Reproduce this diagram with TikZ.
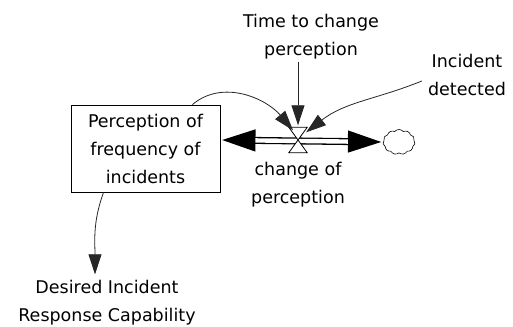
\documentclass[tikz,border=0pt]{standalone}
\usepackage{fontspec}
\setmainfont{DejaVu Sans}
\usetikzlibrary{shapes,shapes.symbols,arrows.meta}
\usetikzlibrary{positioning}
\tikzstyle{label} = [align=center, inner sep=0pt,
    font=\fontsize{17.5}{28}\selectfont]
\tikzstyle{stock} = [rectangle, draw, line width=0.9pt, align=center,
    minimum width=149pt, minimum height=87pt,
    font=\fontsize{17.5}{28}\selectfont]
\tikzstyle{valvebox} = [rectangle, minimum width=18pt, minimum height=25pt,
    inner sep=0pt]
\tikzstyle{sink} = [cloud, draw, cloud puffs=11, cloud puff arc=100,
    minimum width=32pt, minimum height=25pt, inner sep=0pt, line width=0.6pt]
\tikzstyle{link} = [draw, black!85, line width=0.8pt,
    -{Triangle[length=20pt,width=13pt]}]
\tikzstyle{pipe} = [draw, line width=7pt,
    {Triangle[length=35pt,width=20pt]}-{Triangle[length=35pt,width=20pt]}]

\begin{document}
\begin{tikzpicture}[x=1pt, y=1pt]
\useasboundingbox (0,0) rectangle (513,326);
% Place nodes
\node [stock] (perception) at (145.5,177.5) {Perception of\\frequency of\\incidents};
\node [valvebox] (valve) at (298,186) {};
\node [sink] (cloud) at (399,184) {};
\node [label] (change) at (298,141) {change of\\perception};
\node [label] (time) at (311,289) {Time to change\\perception};
\node [label] (detected) at (467,251) {Incident\\detected};
\node [label] (desired) at (107,23) {Desired Incident\\Response Capability};

% Draw the flow pipe
\path [pipe] (perception.east |- valve) -- (cloud.west);
\draw [white, line width=4.4pt, shorten <=35pt, shorten >=35pt]
    (perception.east |- valve) -- (cloud.west);
\draw [fill=white, line width=0.8pt, line join=miter]
    (valve.north west) -- (valve.north east) -- (valve.south west)
    -- (valve.south east) -- cycle;

% Draw edges
\path [link] (valve.north |- time.south) ++(0,-2) -- ([yshift=2pt]valve.north);
\path [link] (detected.west) ++(-6,-6) to [out=202, in=38]
    ([xshift=-1pt, yshift=-5pt]valve.north east);
\path [link] ([xshift=-28pt]perception.north east) to [out=40, in=130]
    ([xshift=-5pt, yshift=-3pt]valve.north);
\path [link] ([xshift=-42pt]perception.south) to [out=-110, in=90]
    ([yshift=6pt]desired.north -| 95,0);

\end{tikzpicture}
\end{document}
